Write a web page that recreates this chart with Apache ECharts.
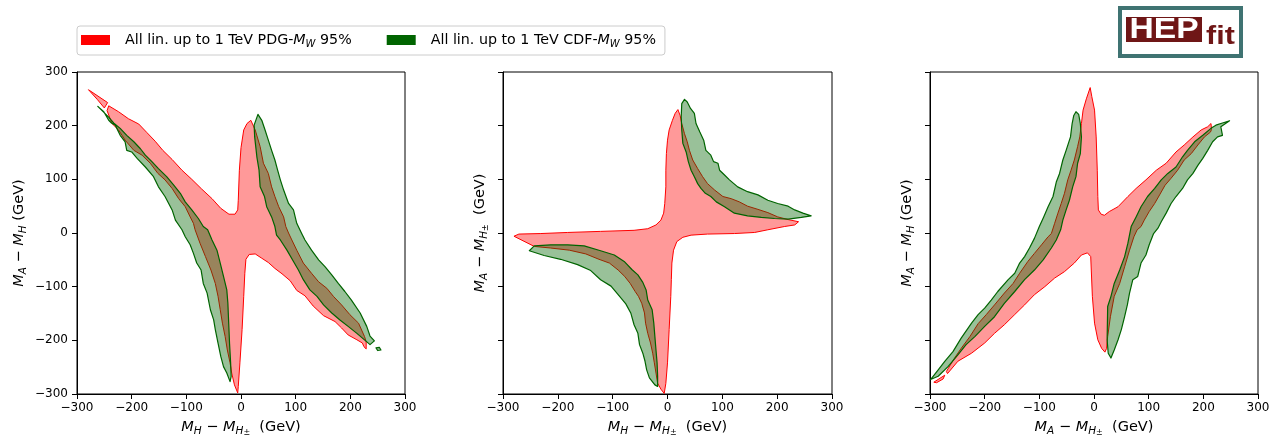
<!DOCTYPE html>
<html>
<head>
<meta charset="utf-8">
<script src="https://cdn.jsdelivr.net/npm/echarts@6/dist/echarts.min.js"></script>
<style>
html, body { margin: 0; padding: 0; background: #ffffff; }
#chart { width: 1276px; height: 437px; }
</style>
</head>
<body>
<div id="chart"></div>
<script>
// Axis ticks shared by every panel (GeV)
const tickValues = [-300, -200, -100, 0, 100, 200, 300];

// Legend entries
const seriesNames = ['PDG', 'CDF'];

// ---------- Panel 1: (M_H - M_H±, M_A - M_H) ----------
const pdgP1Main = [
  [-242,237],[-224,226],[-206,213],[-187,203],[-172,187],[-157,171],[-143,154],[-126,137],[-108,117],[-90,100],
  [-72,82],[-53,64],[-37,46],[-22,35],[-11,35],[-6,43],[-5,61],[-3,117],[0,159],[5,192],[11,204],[18,210],
  [26,192],[35,161],[41,130],[50,111],[56,86],[62,68],[69,49],[78,30],[82,12],[87,0],[93,-13],[102,-32],
  [114,-56],[129,-75],[142,-91],[157,-103],[169,-118],[184,-134],[199,-152],[215,-168],[226,-193],[229,-203],
  [229,-216],[225,-212],[222,-205],
  [212,-199],[196,-190],[184,-177],[172,-165],[151,-154],[132,-136],[117,-117],[102,-107],[90,-89],[75,-76],
  [62,-66],[50,-55],[38,-47],[26,-39],[15,-40],[9,-49],[7,-75],[5,-118],[2,-180],[-2,-242],[-5,-286],[-6,-298],
  [-12,-283],[-17,-261],[-20,-242],[-25,-218],[-29,-193],[-34,-168],[-38,-143],[-42,-118],[-47,-94],[-55,-69],
  [-65,-44],[-75,-19],[-84,6],[-87,18],[-93,30],[-102,49],[-114,64],[-126,83],[-139,99],[-152,111],[-166,130],
  [-181,145],[-196,154],[-212,173],[-224,192],[-236,204],[-245,228]
];
const pdgP1Tip = [[-279,267],[-244,243],[-250,233],[-263,249]];
const cdfP1Left = [
  [-262,236],[-242,216],[-233,205],[-221,195],[-209,182],[-196,170],[-184,157],[-175,145],[-163,133],[-151,120],
  [-136,105],[-123,89],[-111,74],[-102,58],[-90,43],[-78,27],[-69,12],[-61,6],[-53,-13],[-44,-32],[-38,-56],
  [-32,-81],[-26,-106],[-24,-131],[-23,-156],[-22,-180],[-21,-205],[-19,-242],[-18,-267],[-20,-277],
  [-26,-261],[-32,-249],[-37,-230],[-42,-205],[-47,-180],[-50,-162],[-56,-143],[-62,-112],[-69,-94],[-73,-69],
  [-81,-56],[-87,-38],[-93,-22],[-102,-7],[-108,6],[-120,24],[-126,43],[-139,68],[-151,86],[-160,105],[-175,123],
  [-190,139],[-200,151],[-209,154],[-212,170],[-221,182],[-230,201],[-237,205],[-242,210],[-251,226]
];
const cdfP1Right = [
  [31,221],[38,210],[44,192],[50,173],[56,154],[62,136],[67,117],[72,99],[78,80],[87,55],[96,43],[102,18],
  [111,-1],[117,-13],[129,-32],[142,-50],[154,-63],[166,-78],[178,-94],[190,-109],[202,-125],[218,-149],
  [230,-174],[236,-192],[244,-201],[236,-208],[227,-200],
  [212,-187],[196,-174],[181,-162],[166,-149],[151,-134],[139,-118],[126,-106],[114,-87],[105,-69],[96,-53],
  [84,-32],[72,-13],[65,-4],[62,12],[56,30],[47,49],[43,68],[35,86],[33,117],[29,142],[25,179],[24,201]
];
const cdfP1Islet = [[247,-214],[253,-213],[256,-218],[250,-219]];

// ---------- Panel 2: (M_H - M_H±, M_A - M_H±) ----------
const pdgP2Main = [
  [-280,-6],[-271,-2],[-231,-1],[-182,1],[-122,3],[-61,5],[-36,8],[-21,15],[-12,24],[-7,37],[-5,55],[-3,86],
  [-3,117],[-2,148],[0,173],[3,192],[9,210],[14,223],[19,230],
  [23,219],[26,204],[31,185],[36,170],[40,154],[46,136],[55,120],[64,105],[73,92],[86,80],[101,68],[116,64],
  [131,58],[146,50],[165,44],[183,38],[201,30],[220,25],[239,21],
  [232,15],[213,12],[183,6],[159,1],[122,-1],[73,-2],[43,-4],[28,-8],[17,-16],[11,-32],[8,-56],[7,-87],
  [6,-118],[3,-180],[0,-242],[-3,-280],[-6,-299],
  [-12,-291],[-18,-280],[-21,-261],[-24,-242],[-27,-224],[-31,-205],[-36,-187],[-40,-168],[-42,-149],[-47,-131],
  [-53,-118],[-59,-109],[-68,-94],[-78,-81],[-90,-69],[-106,-56],[-125,-49],[-149,-39],[-179,-32],[-213,-28],
  [-243,-25]
];
const cdfP2Lower = [
  [-252,-33],[-243,-24],[-213,-22],[-182,-22],[-152,-24],[-122,-33],[-97,-41],[-79,-53],[-65,-68],[-54,-78],
  [-45,-92],[-39,-106],[-36,-125],[-28,-143],[-25,-168],[-23,-193],[-21,-218],[-19,-242],[-18,-267],[-18,-286],
  [-23,-283],[-33,-270],[-38,-255],[-41,-239],[-45,-224],[-51,-208],[-54,-187],[-61,-171],[-67,-149],[-76,-132],
  [-90,-115],[-103,-99],[-122,-87],[-140,-70],[-164,-59],[-195,-49],[-225,-42]
];
const cdfP2Upper = [
  [31,249],[36,244],[42,232],[49,223],[52,204],[59,188],[66,173],[70,154],[79,145],[84,133],[92,130],[95,117],
  [104,108],[113,99],[128,86],[146,77],[165,71],[183,61],[201,55],[220,50],[232,43],[247,37],[262,32],
  [244,29],[220,26],[195,27],[171,29],[146,32],[122,37],[104,49],[89,58],[79,68],[69,74],[61,83],[55,92],
  [49,105],[43,117],[38,133],[34,151],[28,167],[26,192],[25,216],[26,241]
];

// ---------- Panel 3: (M_A - M_H±, M_A - M_H) ----------
const pdgP3Main = [
  [-270,-258],[-255,-233],[-243,-215],[-227,-193],[-212,-169],[-197,-152],[-182,-134],[-164,-112],[-148,-94],
  [-136,-75],[-121,-53],[-109,-38],[-96,-22],[-84,-7],[-78,-1],[-72,18],[-66,37],[-60,55],[-54,74],[-48,99],
  [-42,117],[-36,136],[-30,161],[-26,179],[-23,204],[-20,229],[-14,250],[-7,271],
  [-4,254],[1,229],[4,179],[6,117],[7,68],[8,43],[13,35],[19,33],
  [28,40],[44,49],[62,68],[77,83],[95,99],[114,117],[132,130],[150,151],[165,164],[181,179],[196,192],[208,198],
  [214,204],[215,193],
  [213,188],[202,179],[190,164],[178,148],[165,136],[153,117],[141,102],[130,89],[120,71],[111,55],[101,40],
  [92,24],[86,12],[79,6],[73,-7],[65,-32],[56,-63],[47,-94],[37,-118],[30,-156],[25,-193],[23,-215],[20,-222],
  [14,-215],[7,-199],[1,-168],[-3,-118],[-5,-69],[-6,-44],[-12,-37],[-23,-41],[-36,-56],[-54,-72],[-72,-84],
  [-90,-100],[-109,-115],[-127,-134],[-145,-152],[-164,-171],[-182,-187],[-200,-205],[-224,-224],[-249,-239],
  [-268,-262]
];
const pdgP3Tip = [[-293,-278],[-273,-265],[-276,-272],[-288,-279]];
const cdfP3Left = [
  [-299,-273],[-285,-255],[-273,-239],[-258,-221],[-243,-196],[-224,-168],[-212,-152],[-200,-140],[-188,-125],
  [-176,-109],[-157,-87],[-145,-75],[-136,-56],[-127,-44],[-118,-28],[-109,-10],[-100,12],[-92,30],[-84,49],
  [-75,68],[-69,95],[-63,111],[-57,136],[-51,154],[-43,179],[-40,204],[-37,219],[-33,226],
  [-28,221],[-25,204],[-23,179],[-25,148],[-30,130],[-33,105],[-39,86],[-45,61],[-51,43],[-57,24],[-61,6],
  [-69,-13],[-78,-28],[-93,-50],[-109,-69],[-127,-87],[-145,-109],[-164,-131],[-182,-156],[-200,-174],
  [-218,-193],[-234,-208],[-249,-227],[-267,-249],[-285,-267]
];
const cdfP3Right = [
  [31,-233],[37,-218],[44,-199],[50,-180],[56,-156],[61,-134],[65,-112],[71,-87],[80,-81],[86,-56],[95,-41],
  [101,-22],[109,-1],[117,9],[123,21],[132,37],[141,55],[150,68],[162,83],[171,99],[181,111],[190,126],
  [199,139],[208,154],[217,170],[226,179],[235,182],[232,198],[248,209],
  [235,205],[223,201],[214,195],[199,182],[184,170],[171,154],[162,142],[150,123],[135,111],[123,99],[111,83],
  [98,68],[86,49],[77,30],[68,12],[62,-19],[56,-44],[47,-69],[37,-94],[31,-118],[25,-137],[24,-199],[26,-224]
];

// ---------- styling ----------
const FONT = 'DejaVu Sans';
const RED = '#ff0000', RED_FILL = 'rgba(255,0,0,0.4)';
const GREEN = '#006400', GREEN_FILL = 'rgba(0,100,0,0.4)';

const gridBoxes = [
  { left: 77, top: 72, width: 328, height: 322 },
  { left: 503, top: 72, width: 329, height: 322 },
  { left: 930, top: 72, width: 328, height: 322 }
];

const nameRich = {
  n: { fontFamily: FONT, fontSize: 14.5, color: '#000', lineHeight: 20 },
  i: { fontFamily: FONT, fontSize: 14.5, fontStyle: 'italic', color: '#000', lineHeight: 20 },
  s: { fontFamily: FONT, fontSize: 10.5, fontStyle: 'italic', color: '#000', lineHeight: 10, verticalAlign: 'bottom' },
  p: { fontFamily: FONT, fontSize: 8, color: '#000', lineHeight: 19, verticalAlign: 'bottom' }
};
const LABEL_AH = '{i|M}{s|A}{n| − }{i|M}{s|H}{n| (GeV)}';
const LABEL_HC = '{i|M}{s|H}{n| − }{i|M}{s|H}{p|±}{n|  (GeV)}';
const LABEL_AC = '{i|M}{s|A}{n| − }{i|M}{s|H}{p|±}{n|  (GeV)}';

const fmtTick = v => String(v).replace('-', '\u2212');

function xAxisFor(idx, name) {
  return {
    type: 'value', gridIndex: idx,
    min: tickValues[0], max: tickValues[tickValues.length - 1], interval: 100,
    name: name, nameLocation: 'middle', nameGap: 23,
    nameTextStyle: { rich: nameRich },
    axisLine: { show: true, onZero: false, lineStyle: { color: '#000', width: 1 } },
    axisTick: { show: true, length: 5, lineStyle: { color: '#000', width: 1 } },
    axisLabel: { show: true, color: '#000', fontFamily: FONT, fontSize: 12, margin: 8,
                 showMinLabel: true, showMaxLabel: true, formatter: fmtTick },
    splitLine: { show: false }
  };
}
function yAxisFor(idx, name, withLabels, gap) {
  return {
    type: 'value', gridIndex: idx,
    min: tickValues[0], max: tickValues[tickValues.length - 1], interval: 100,
    name: name, nameLocation: 'middle', nameGap: gap, nameRotate: 90,
    nameTextStyle: { rich: nameRich },
    axisLine: { show: true, onZero: false, lineStyle: { color: '#000', width: 1 } },
    axisTick: { show: true, length: 5, lineStyle: { color: '#000', width: 1 } },
    axisLabel: { show: withLabels, color: '#000', fontFamily: FONT, fontSize: 12, margin: 9,
                 showMinLabel: true, showMaxLabel: true, formatter: fmtTick },
    splitLine: { show: false }
  };
}

// Filled confidence region drawn through the axis scales
function regionSeries(name, axisIdx, polygons, lineColor, fillColor, lineWidth, z) {
  return {
    type: 'custom', name: name, coordinateSystem: 'cartesian2d',
    xAxisIndex: axisIdx, yAxisIndex: axisIdx, z: z,
    itemStyle: { color: lineColor },
    clip: true, silent: true, animation: false,
    data: polygons.map(p => p[0]),
    renderItem: function (params, api) {
      const pts = polygons[params.dataIndex].map(p => api.coord(p));
      return {
        type: 'polygon',
        shape: { points: pts },
        style: { fill: fillColor, stroke: lineColor, lineWidth: lineWidth, lineJoin: 'round' }
      };
    }
  };
}

const legendRich = {
  a: { fontFamily: FONT, fontSize: 14.25, color: '#000', lineHeight: 18, padding: [0, 0, 0, 10] },
  n: { fontFamily: FONT, fontSize: 14.25, color: '#000', lineHeight: 18 },
  i: { fontFamily: FONT, fontSize: 14.25, fontStyle: 'italic', color: '#000', lineHeight: 18 },
  s: { fontFamily: FONT, fontSize: 10, fontStyle: 'italic', color: '#000', lineHeight: 8, verticalAlign: 'bottom' }
};
const legendText = {
  PDG: '{a|All lin. up to 1 TeV PDG-}{i|M}{s|W}{n| 95%}',
  CDF: '{a|All lin. up to 1 TeV CDF-}{i|M}{s|W}{n| 95%}'
};

const chart = echarts.init(document.getElementById('chart'), null, { renderer: 'canvas' });
chart.setOption({
  animation: false,
  backgroundColor: '#ffffff',
  grid: gridBoxes.map(g => Object.assign({
    show: true, borderColor: '#000', borderWidth: 1, containLabel: false, outerBoundsMode: 'none'
  }, g)),
  xAxis: [xAxisFor(0, LABEL_HC), xAxisFor(1, LABEL_HC), xAxisFor(2, LABEL_AC)],
  yAxis: [yAxisFor(0, LABEL_AH, true, 48), yAxisFor(1, LABEL_AC, false, 13), yAxisFor(2, LABEL_AH, false, 13)],
  legend: {
    data: seriesNames, left: 77, top: 26, orient: 'horizontal',
    icon: 'rect', itemWidth: 29, itemHeight: 10, itemGap: 35,
    padding: [7, 9, 6, 4], borderColor: '#cccccc', borderWidth: 1, borderRadius: 3,
    backgroundColor: '#ffffff', selectedMode: false,
    textStyle: { fontFamily: FONT, fontSize: 14.25, color: '#000', rich: legendRich },
    formatter: name => legendText[name]
  },
  series: [
    regionSeries('PDG', 0, [pdgP1Main, pdgP1Tip], RED, RED_FILL, 1, 2),
    regionSeries('CDF', 0, [cdfP1Left, cdfP1Right, cdfP1Islet], GREEN, GREEN_FILL, 1.2, 3),
    regionSeries('PDG', 1, [pdgP2Main], RED, RED_FILL, 1, 2),
    regionSeries('CDF', 1, [cdfP2Lower, cdfP2Upper], GREEN, GREEN_FILL, 1.2, 3),
    regionSeries('PDG', 2, [pdgP3Main, pdgP3Tip], RED, RED_FILL, 1, 2),
    regionSeries('CDF', 2, [cdfP3Left, cdfP3Right], GREEN, GREEN_FILL, 1.2, 3)
  ],
  graphic: [
    { type: 'rect', shape: { x: 1120, y: 8, width: 121, height: 48 },
      style: { fill: '#ffffff', stroke: '#3f7372', lineWidth: 4 } },
    { type: 'rect', shape: { x: 1126, y: 17, width: 76, height: 25 },
      style: { fill: '#6f1616' } },
    { type: 'text', x: 1164, y: 29.5, scaleX: 1.12, originX: 0, originY: 0,
      style: { text: 'HEP', fill: '#ffffff', font: 'bold 30px "Liberation Sans"',
               align: 'center', verticalAlign: 'middle', textAlign: 'center', textVerticalAlign: 'middle' } },
    { type: 'text', x: 1220.5, y: 37, scaleX: 1.22, originX: 0, originY: 0,
      style: { text: 'fit', fill: '#6f1616', font: 'bold 25px "Liberation Sans"',
               align: 'center', verticalAlign: 'middle', textAlign: 'center', textVerticalAlign: 'middle' } }
  ]
});
</script>
</body>
</html>
